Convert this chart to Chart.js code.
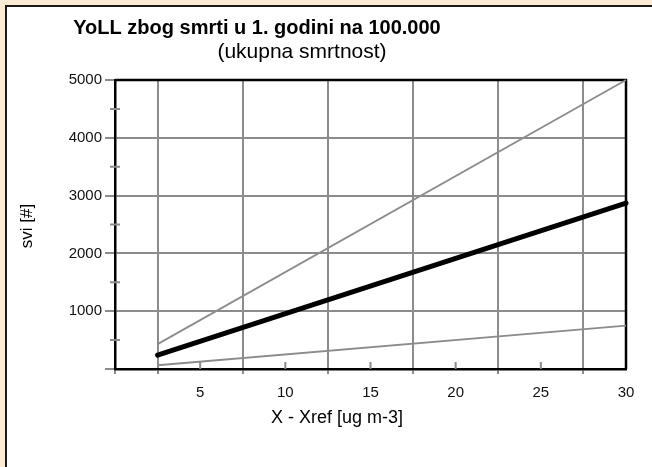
<!DOCTYPE html>
<html>
<head>
<meta charset="utf-8">
<script src="https://cdn.jsdelivr.net/npm/chart.js@4/dist/chart.umd.min.js"></script>
<style>
  html, body { margin: 0; padding: 0; }
  body { width: 652px; height: 467px; background: #faebd2; position: relative; overflow: hidden; }
  #frame {
    position: absolute; left: 5px; top: 5px; width: 645px; height: 460px;
    background: #fff; border-left: 2px solid #1a1a1a; border-top: 2px solid #1a1a1a;
  }
  canvas { display: block; }
</style>
</head>
<body>
<div id="frame"><canvas id="c" width="645" height="460"></canvas></div>
<script>
// YoLL per 100.000 vs concentration increment — central estimate plus low/high bounds
const xValues = [2.5, 30];
const yollCentral = [240, 2870];
const yollHigh = [430, 5000];
const yollLow = [65, 750];

const xLabels = [5, 10, 15, 20, 25, 30];
const xGrid = [2.5, 7.5, 12.5, 17.5, 22.5, 27.5];
const yLabels = [1000, 2000, 3000, 4000, 5000];
const yMinor = [500, 1500, 2500, 3500, 4500];

const GRID = "#8c8c8c";
const FONT = "'Liberation Sans', Arial, Helvetica, sans-serif";
Chart.defaults.font.family = FONT;

const pts = (ys) => xValues.map((x, i) => ({ x, y: ys[i] }));
const byValue = (a, b) => a - b;

// frame, short ticks and all captions sit outside what Chart.js draws by itself
const decor = {
  id: "decor",
  beforeDatasetsDraw(chart) {
    const { ctx, chartArea: a, scales: { x, y } } = chart;
    ctx.save();
    ctx.strokeStyle = GRID;
    ctx.lineWidth = 2;
    ctx.beginPath();
    for (const v of yMinor) {
      const py = y.getPixelForValue(v);
      ctx.moveTo(a.left - 5, py);
      ctx.lineTo(a.left + 5, py);
    }
    for (const v of xLabels) {
      const px = x.getPixelForValue(v);
      ctx.moveTo(px, a.bottom);
      ctx.lineTo(px, a.bottom - 7);
    }
    ctx.stroke();
    ctx.strokeStyle = "#000";
    ctx.lineWidth = 2.5;
    ctx.beginPath();
    ctx.moveTo(a.left, a.top);
    ctx.lineTo(a.right, a.top);
    ctx.lineTo(a.right, a.bottom);
    ctx.stroke();
    ctx.restore();
  },
  afterDraw(chart) {
    const ctx = chart.ctx;
    ctx.save();
    ctx.fillStyle = "#000";
    ctx.textAlign = "center";
    ctx.textBaseline = "alphabetic";
    ctx.font = `bold 20px ${FONT}`;
    ctx.fillText("YoLL zbog smrti u 1. godini na 100.000", 250, 27);
    ctx.font = `21px ${FONT}`;
    ctx.fillText("(ukupna smrtnost)", 295, 51);
    ctx.font = `18px ${FONT}`;
    ctx.fillText("X - Xref [ug m-3]", 330, 416);
    ctx.translate(20, 219);
    ctx.rotate(-Math.PI / 2);
    ctx.textBaseline = "middle";
    ctx.font = `17px ${FONT}`;
    ctx.fillText("svi [#]", 0, 0);
    ctx.restore();
  },
};

new Chart(document.getElementById("c"), {
  type: "line",
  data: {
    datasets: [
      { data: pts(yollHigh), borderColor: GRID, borderWidth: 1.8, pointRadius: 0 },
      { data: pts(yollLow), borderColor: GRID, borderWidth: 1.8, pointRadius: 0 },
      { data: pts(yollCentral), borderColor: "#000", borderWidth: 5, borderCapStyle: "round", pointRadius: 0 },
    ],
  },
  options: {
    responsive: false,
    animation: false,
    devicePixelRatio: 1,
    clip: false,
    layout: { padding: { left: 48, top: 73, right: 26, bottom: 58 } },
    plugins: { legend: { display: false }, tooltip: { enabled: false }, title: { display: false } },
    scales: {
      x: {
        type: "linear",
        min: 0,
        max: 30,
        afterBuildTicks: (s) => { s.ticks = [0, ...xGrid, ...xLabels].sort(byValue).map((value) => ({ value })); },
        afterFit: (s) => { s.height = 40; },
        ticks: {
          autoSkip: false, maxRotation: 0, padding: 10, color: "#111", font: { size: 15 },
          callback: (v) => (xLabels.includes(v) ? String(v) : ""),
        },
        grid: {
          lineWidth: 2, tickLength: 5,
          color: (c) => (c.tick && (xGrid.includes(c.tick.value) || c.tick.value === 0) ? GRID : "rgba(0,0,0,0)"),
        },
        border: { color: "#000", width: 2.5 },
      },
      y: {
        min: 0,
        max: 5000,
        afterBuildTicks: (s) => { s.ticks = [0, ...yMinor, ...yLabels].sort(byValue).map((value) => ({ value })); },
        afterFit: (s) => { s.width = 60; },
        ticks: {
          autoSkip: false, padding: 3, color: "#111", font: { size: 15 },
          callback: (v) => (yLabels.includes(v) ? String(v) : ""),
        },
        grid: {
          lineWidth: 2, tickLength: 10,
          color: (c) => (c.tick && yMinor.includes(c.tick.value) ? "rgba(0,0,0,0)" : GRID),
        },
        border: { color: "#000", width: 2.5 },
      },
    },
  },
  plugins: [decor],
});
</script>
</body>
</html>
